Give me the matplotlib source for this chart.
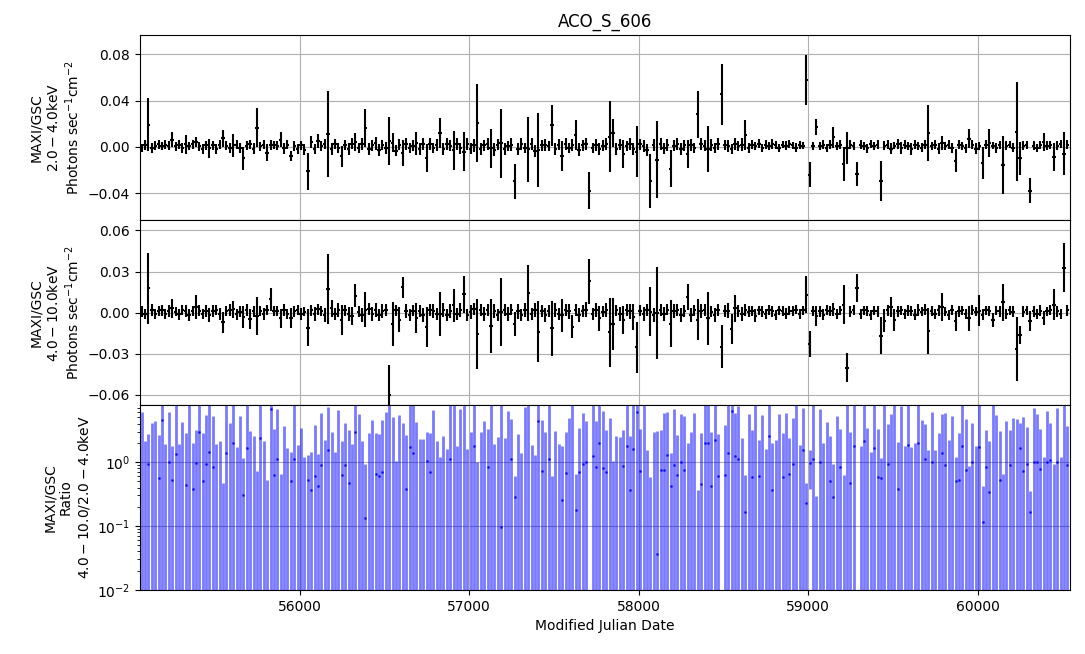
import numpy as np
import matplotlib
matplotlib.use("Agg")
import matplotlib.pyplot as plt

# 20-day bins, MJD of bin centres
t0 = 55068
bin_days = 20

# 2.0-4.0 keV rate (1e-3 photons/s/cm2) and errors, 20 bins per row
soft = [
    -0.8, 1.6, 19, -1.3, 0.9, 2.1, 0.4, 1.7, 1.1, 6.1, 0.6, 1.9, -1.2, 2.3, 0.7, 2.4, 4.4, 0.5, -1.8, 1.2,
    -1.1, 1.2, -1.9, 1.8, 7.2, 0.8, -1.3, 1.2, 2.0, -0.9, -10, 1.1, 2.2, -1.6, 16.5, 0.5, 1.8, -5.2, 1.4, 1.6,
    1.0, 6.2, -1.4, 1.9, -8.1, 0.8, -2.0, 1.3, -2.6, -21, 4.3, -1.8, 5.4, 1.1, 2.1, 11, -2.2, 2.5, -1.1, -8.3,
    1.8, -2.1, 2.7, 4.2, -0.9, 2.3, 16.5, -1.9, 1.2, 2.9, -2.5, 1.6, -1.3, 5.1, 3.4, -3.2, 1.9, -5.3, 2.4, -1.0,
    1.1, 3.1, -1.8, 2.1, -10, 2.6, -0.9, 1.9, 12.2, -2.0, 2.5, 1.0, -3.1, 2.2, -1.1, -4.1, 2.4, -1.6, 1.3, 20.5,
    -1.7, 1.2, 2.6, -1.2, -2.4, 1.8, 3.1, -1.9, 0.9, 2.0, -30, -1.8, 2.7, -1.0, -2.1, 2.1, -3.3, -3.1, 1.4, 1.8,
    0.9, 18.6, -1.8, 2.0, -8.2, 2.5, -1.1, 1.8, 10.1, -2.4, 1.2, 2.2, -38, -0.9, 1.9, -2.1, 1.0, 2.6, 8.8, 12,
    -1.8, 1.9, -6.1, 1.0, 2.5, -2.0, -4.2, 2.1, 0.8, -2.6, -29.6, 1.8, -11, 2.4, -1.2, 1.7, -19, 1.1, 2.7, -1.6,
    1.2, -6.2, 1.8, -1.1, 28, 2.4, 0.9, -2.1, 1.9, -0.8, 2.6, 45.5, 1.6, 1.1, -1.9, 2.5, 1.0, 2.0, 10.2, -0.9,
    1.7, 0.9, 2.6, -0.8, 2.0, 0.7, 2.5, 1.6, -1.0, 1.9, 0.8, 2.3, 1.2, -0.7, 1.8, 1.1, 58, -24, 0.8, 17,
    0.9, 1.8, -1.1, 2.0, 8.1, 0.9, 1.9, -15, -1.2, 1.7, 1.0, -23.5, 1.9, 0.8, -1.2, 2.1, 0.9, 1.7, -29.5, 1.1,
    1.8, -1.7, 1.1, 2.4, -1.0, 1.9, 0.8, -1.9, 1.8, 0.9, -0.9, 2.0, 12, 1.0, 1.9, -1.6, 3.1, 0.9, 1.7, -1.1,
    -12.2, 1.9, 0.9, -1.2, 7.1, 1.8, -1.8, 0.8, -14, 2.0, 3.2, 1.1, -1.0, 1.7, -15.7, 1.0, 2.0, -0.9, 13.2, -10,
    1.1, 1.8, -38, 0.9, -1.1, 1.9, 4.2, 1.0, 1.7, -8.6, 0.9, 2.3, -6.2, 1.8,
]
soft_err = [
    3.6, 4.1, 23, 4.3, 3.7, 3.9, 3.5, 4.0, 3.6, 6.3, 3.8, 3.7, 4.2, 8.1, 3.6, 3.9, 4.4, 3.7, 4.3, 3.8,
    8.2, 3.8, 4.3, 3.7, 7.1, 3.9, 4.4, 10.2, 3.6, 4.5, 10.1, 3.8, 4.1, 4.6, 17, 3.7, 3.9, 7.3, 4.2, 3.8,
    3.9, 6.3, 4.4, 3.8, 4.1, 4.0, 4.5, 3.9, 4.7, 16, 5.2, 4.6, 6.1, 4.3, 4.4, 37, 5.3, 4.6, 4.5, 9.2,
    4.4, 5.2, 4.6, 8.1, 4.5, 5.3, 16.3, 5.1, 4.4, 5.4, 5.2, 4.6, 5.3, 21, 8.2, 5.1, 4.6, 11.2, 5.1, 4.5,
    4.5, 10.1, 5.2, 5.1, 12.1, 5.3, 4.6, 5.2, 13, 5.1, 5.3, 4.5, 17, 5.1, 4.7, 17, 5.2, 4.6, 5.4, 34,
    5.1, 4.5, 5.2, 17, 5.3, 4.6, 30, 5.1, 4.4, 5.2, 15, 5.3, 5.1, 4.5, 28, 5.2, 5.3, 32, 4.6, 5.1,
    4.5, 18, 5.3, 4.6, 13, 5.2, 4.4, 5.1, 13, 5.4, 4.5, 5.3, 16, 4.6, 5.2, 5.1, 4.5, 5.4, 31, 12,
    5.2, 4.6, 12, 4.4, 5.1, 5.3, 22, 4.5, 5.2, 5.3, 23, 5.1, 33, 5.2, 4.6, 5.3, 16, 4.5, 5.1, 5.2,
    4.4, 12, 5.2, 4.5, 20, 5.3, 4.6, 20, 5.1, 4.5, 5.2, 26.5, 4.6, 5.2, 4.5, 5.1, 4.4, 5.3, 13, 4.6,
    3.8, 3.4, 3.9, 3.3, 3.8, 3.2, 4.0, 3.5, 3.7, 3.3, 3.9, 3.4, 3.2, 3.8, 3.4, 3.3, 21.7, 10.5, 3.4, 7,
    3.4, 3.9, 3.3, 4.0, 8.8, 3.5, 3.8, 15, 14, 3.9, 3.4, 10, 4.0, 3.4, 3.8, 3.5, 3.3, 3.9, 17.5, 3.7,
    3.9, 4.7, 3.4, 4.0, 4.8, 3.9, 3.3, 4.9, 3.8, 3.4, 4.0, 3.9, 24.4, 3.5, 3.8, 4.7, 6.2, 3.4, 3.9, 4.0,
    10, 3.9, 3.4, 4.0, 8.2, 3.8, 4.7, 3.5, 14, 3.9, 12.3, 3.4, 4.0, 3.5, 25, 3.9, 3.4, 3.8, 42.8, 14.5,
    4.0, 3.5, 11, 3.9, 3.8, 3.4, 7.8, 4.0, 3.4, 12.3, 3.9, 3.5, 18.6, 3.8,
]

# 4.0-10.0 keV rate (1e-3 photons/s/cm2) and errors
hard = [
    0.9, -1.1, 17.8, 1.7, -0.8, 1.2, 1.8, -1.0, 1.1, 3.2, 0.8, -1.3, 1.6, 1.0, -1.8, 0.9, 4.3, 1.5, -0.9, 1.1,
    -1.6, 1.0, 1.8, -0.9, -7.1, 1.1, 1.6, 2.4, -1.1, 0.8, -3.1, 1.8, -4.8, 0.9, -2.4, 1.2, -0.8, 1.7, 9.6, 1.0,
    1.1, -4.2, 1.7, -1.0, -4.1, 0.9, 1.8, -1.2, 0.8, -11, 1.6, -1.1, 2.3, 1.0, -1.6, 17.2, 3.1, -1.1, 1.8, -5.2,
    1.6, -1.0, -2.4, 12.4, 0.8, -1.8, 2.2, 2.4, -1.1, 1.9, -1.5, 1.1, 2.2, -60, -8.2, 1.6, -5.1, 18.5, 0.9, -1.7,
    1.5, -4.1, 1.0, -1.6, -10.5, 1.8, 0.9, -1.1, -1.2, 1.7, -1.6, 1.1, 5.2, -1.0, 1.8, 13.4, -1.6, 0.8, 2.3, -15.7,
    1.7, -0.9, 2.2, -9.8, 1.1, -1.7, 0.3, 1.8, -0.8, 2.2, -8.4, 0.9, -1.8, 1.6, 14.4, -1.1, 1.9, -13.8, 1.0, -1.6,
    1.0, -11.6, 1.8, -0.9, -2.1, 1.7, 0.9, -10.2, 1.8, -1.7, 1.1, 2.2, 22.9, -1.1, 1.6, -4.1, 0.8, 1.8, -14.4, -8.3,
    1.6, -1.0, -5.2, 1.8, 0.9, -3.2, -25.4, 1.5, -1.1, 2.2, 0.7, -1.6, -0.4, 1.8, -0.9, 2.2, -8.1, 1.0, 1.7, -1.6,
    0.9, 11.2, -1.6, 1.7, -5.2, 1.1, 1.8, -4.1, 0.8, -1.8, 1.6, -24.9, 1.0, 1.5, -12.1, 3.1, 1.1, -1.0, 1.7, 0.8,
    1.0, -2.2, 1.6, 0.8, -1.1, 1.8, 0.9, -1.7, 1.8, 1.1, -0.8, 1.5, 1.1, 2.2, -1.0, 1.7, 13.2, -23, 0.9, -2.3,
    0.9, -1.6, 1.8, 1.0, 2.3, -1.1, 1.6, 5.8, -40.2, 0.8, 1.8, 18, -0.9, 1.7, 1.1, -1.6, 1.5, 1.0, -16.9, -5.8,
    1.7, 4.2, -5.1, 0.9, 1.8, -1.0, 1.5, 1.1, -1.6, 1.8, 0.8, 2.2, -13.4, 1.0, -1.1, 1.6, 4.3, 0.8, -1.7, 1.8,
    -6.1, 1.0, 1.6, -0.9, -4.2, 1.8, 0.8, 1.4, -1.6, 1.7, 1.1, -5.3, 1.5, 0.9, 7.5, -1.0, 1.8, 0.8, -26.8, -16.6,
    0.8, 1.7, -6.2, 0.9, -1.1, 1.5, -4.1, 1.0, 1.8, 5.9, 0.9, -1.0, 32.9, 1.6,
]
hard_err = [
    4.2, 3.6, 26, 4.3, 3.5, 3.7, 4.1, 3.6, 4.3, 7.1, 3.6, 4.2, 3.7, 4.4, 4.3, 3.6, 8.7, 4.2, 3.6, 4.3,
    5.1, 4.2, 3.7, 4.3, 7.8, 3.6, 4.4, 6.2, 4.1, 3.7, 8.1, 4.3, 7.2, 4.2, 14, 3.6, 4.3, 3.7, 8.1, 3.6,
    3.7, 7.1, 4.3, 3.6, 7.2, 4.1, 3.7, 4.4, 3.6, 13.5, 4.2, 5.1, 4.3, 3.7, 5.2, 25.4, 6.1, 4.3, 5.2, 10.8,
    4.2, 5.1, 6.3, 8.5, 4.3, 5.2, 12.8, 4.4, 5.1, 5.2, 4.3, 5.2, 4.4, 22, 16, 4.2, 9.1, 7.8, 5.1, 4.3,
    4.3, 11, 4.2, 5.2, 14.5, 4.3, 5.1, 4.2, 16, 5.2, 4.4, 5.1, 12, 4.3, 5.2, 13.6, 4.2, 5.1, 4.4, 25.7,
    4.3, 5.1, 4.4, 19.6, 5.2, 4.3, 25, 4.2, 5.1, 4.3, 8.7, 5.2, 4.4, 5.1, 20.2, 4.2, 5.3, 22, 4.3, 5.1,
    4.2, 20, 5.1, 4.3, 12.1, 4.4, 5.2, 8.1, 4.3, 5.2, 4.1, 5.3, 16.6, 4.2, 5.1, 9.2, 4.3, 5.2, 25.4, 19,
    4.2, 5.1, 10.2, 4.3, 5.2, 9.8, 18.4, 4.2, 5.1, 4.4, 18, 5.2, 33.7, 4.3, 5.1, 4.2, 17.2, 5.1, 4.3, 5.2,
    4.3, 9.5, 5.1, 4.2, 15.1, 5.2, 4.3, 19.2, 4.2, 5.1, 4.4, 15.5, 4.3, 5.2, 10.9, 9.8, 4.2, 5.1, 4.3, 4.2,
    3.8, 4.5, 3.3, 3.9, 3.8, 3.4, 3.9, 3.7, 3.3, 3.8, 3.9, 3.4, 3.8, 3.3, 3.9, 3.4, 13.2, 9.4, 3.7, 7.2,
    3.8, 3.9, 3.4, 3.7, 4.6, 3.9, 3.3, 14, 10.6, 3.9, 3.4, 10.5, 3.8, 3.3, 3.9, 3.8, 3.4, 3.9, 13.5, 8.2,
    3.9, 7.2, 8.1, 3.8, 3.3, 3.9, 3.8, 3.4, 3.9, 4.6, 3.3, 3.9, 16.5, 3.8, 3.4, 3.9, 10.2, 3.3, 3.9, 3.8,
    7.2, 3.9, 3.3, 3.8, 9.1, 3.9, 3.4, 11.2, 3.9, 3.3, 3.8, 5.1, 3.4, 3.9, 13.3, 3.8, 3.3, 3.9, 23.4, 6.6,
    3.9, 3.3, 7.1, 3.8, 3.4, 3.9, 5.2, 3.3, 3.8, 11.2, 3.9, 3.4, 17.7, 3.8,
]

s = np.array(soft) * 1e-3
se = np.array(soft_err) * 1e-3
h = np.array(hard) * 1e-3
he = np.array(hard_err) * 1e-3
mjd = t0 + bin_days * np.arange(len(s))

# hardness ratio
ratio = h / s
ratio_err = np.sqrt((he / s) ** 2 + (h * se / s ** 2) ** 2)

fig, axes = plt.subplots(3, 1, sharex=True, figsize=(10.85, 6.54))
fig.subplots_adjust(left=0.129, right=0.986, top=0.946, bottom=0.098, hspace=0)
ax1, ax2, ax3 = axes

ax1.errorbar(mjd, s, xerr=bin_days / 2, yerr=se, fmt='none', ecolor='black', elinewidth=1.5)
ax1.set_ylim(-0.0635, 0.0965)
ax1.set_yticks([-0.04, 0.0, 0.04, 0.08])
ax1.set_ylabel("MAXI/GSC\n$2.0-4.0$keV\nPhotons sec$^{-1}$cm$^{-2}$")
ax1.set_title("ACO_S_606")
ax1.grid(True)

ax2.errorbar(mjd, h, xerr=bin_days / 2, yerr=he, fmt='none', ecolor='black', elinewidth=1.5)
ax2.set_ylim(-0.0675, 0.0675)
ax2.set_yticks([-0.06, -0.03, 0.0, 0.03, 0.06])
ax2.set_ylabel("MAXI/GSC\n$4.0-10.0$keV\nPhotons sec$^{-1}$cm$^{-2}$")
ax2.grid(True)

ax3.errorbar(mjd, ratio, yerr=ratio_err, fmt='.', color=(0, 0, 1, 0.7), ms=2,
             ecolor=(0, 0, 1, 0.52), elinewidth=2.0)
ax3.set_yscale('log')
ax3.set_ylim(0.01, 7.8)
ax3.set_ylabel("MAXI/GSC\nRatio\n$4.0-10.0$/$2.0-4.0$keV")
ax3.set_xlabel("Modified Julian Date")
ax3.grid(True)

ax3.set_xlim(55058, 60542)

fig.savefig("out.png", dpi=100)
